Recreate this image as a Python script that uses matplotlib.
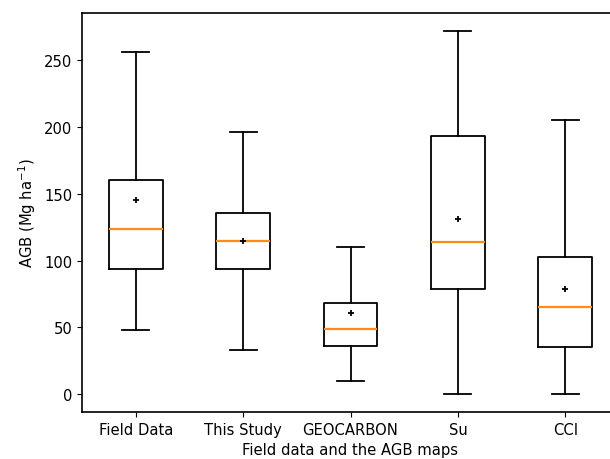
import matplotlib
matplotlib.use("Agg")
import matplotlib.pyplot as plt

names = ["Field Data", "This Study", "GEOCARBON", "Su", "CCI"]
whislo = [48, 33, 10, 0, 0]
q1 = [94, 94, 36, 79, 35]
med = [124, 115, 49, 114, 65]
q3 = [160, 136, 68, 193, 103]
whishi = [256, 196, 110, 272, 205]
mean = [145, 115, 61, 131, 79]

stats = []
for i in range(len(names)):
    stats.append({"label": names[i], "whislo": whislo[i], "q1": q1[i], "med": med[i],
                  "q3": q3[i], "whishi": whishi[i], "mean": mean[i], "fliers": []})

plt.rcParams["font.size"] = 10.6
plt.rcParams["axes.linewidth"] = 1.2
fig = plt.figure(figsize=(6.1, 4.6), dpi=100)
# the right spine of the original is cropped off the picture
ax = fig.add_axes([82 / 610, 1 - 413 / 460, 537 / 610, 399 / 460])
lw = 1.3
ax.bxp(stats, showmeans=True,
       boxprops=dict(linewidth=lw), whiskerprops=dict(linewidth=lw),
       capprops=dict(linewidth=lw), medianprops=dict(linewidth=1.6, color="#ff8c1a"),
       meanprops=dict(marker="+", markeredgecolor="black", markersize=5, markeredgewidth=1.3))
ax.set_ylabel("AGB (Mg ha$^{-1}$)")
ax.set_xlabel("Field data and the AGB maps")
fig.savefig("out.png", dpi=100)
